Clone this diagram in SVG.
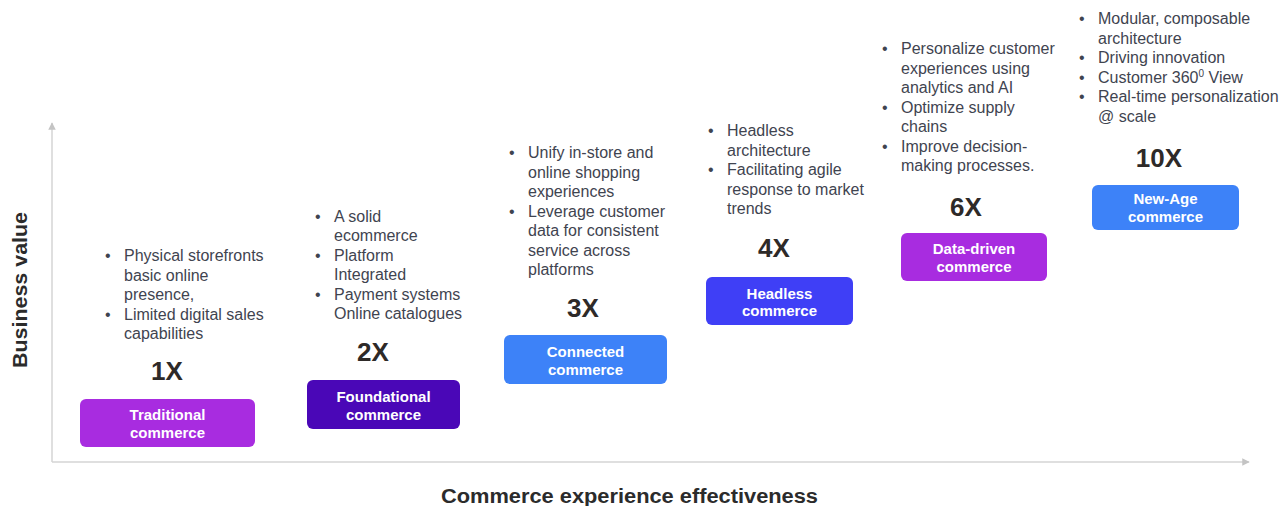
<svg xmlns="http://www.w3.org/2000/svg" width="1284" height="506" viewBox="0 0 1284 506">
  <style>
    .bul { font-family: "Liberation Sans", Arial, sans-serif; font-size: 16px; fill: #3f4450; }
    .mult { font-family: "Liberation Sans", Arial, sans-serif; font-size: 26px; font-weight: bold; fill: #2e2a28; text-anchor: middle; }
    .lab { font-family: "Liberation Sans", Arial, sans-serif; font-size: 15px; font-weight: bold; fill: #ffffff; text-anchor: middle; }
    .axt { font-family: "Liberation Sans", Arial, sans-serif; font-size: 20px; font-weight: bold; fill: #2b2b2b; }
    .axis { stroke: #d4d4d4; stroke-width: 1.5; fill: none; }
  </style>
  <defs>
    <marker id="ah" viewBox="0 0 10 10" refX="9" refY="5" markerWidth="5" markerHeight="5" orient="auto">
      <path d="M0,0 L10,5 L0,10 z" fill="#c4c4c4"/>
    </marker>
  </defs>
  <rect width="1284" height="506" fill="#ffffff"/>

  <!-- axes -->
  <g id="connectors">
    <line class="axis" x1="52" y1="462" x2="52" y2="123" marker-end="url(#ah)"/>
    <line class="axis" x1="52" y1="462" x2="1249" y2="462" marker-end="url(#ah)"/>
  </g>
  <text class="axt" transform="translate(27,290) rotate(-90)" text-anchor="middle" textLength="156" lengthAdjust="spacingAndGlyphs">Business value</text>
  <text class="axt" x="441" y="503" textLength="377" lengthAdjust="spacingAndGlyphs">Commerce experience effectiveness</text>

  <!-- stage 1 -->
  <g id="traditional">
    <text class="bul" x="105" y="261">•</text>
    <text class="bul" x="124" y="261">Physical storefronts</text>
    <text class="bul" x="124" y="280.5">basic online</text>
    <text class="bul" x="124" y="300">presence,</text>
    <text class="bul" x="105" y="319.5">•</text>
    <text class="bul" x="124" y="319.5">Limited digital sales</text>
    <text class="bul" x="124" y="339">capabilities</text>
    <text class="mult" x="167" y="380">1X</text>
    <rect x="80" y="399" width="175" height="48" rx="6" fill="#a82ce0"/>
    <text class="lab" x="167.5" y="420">Traditional</text>
    <text class="lab" x="167.5" y="438">commerce</text>
  </g>

  <!-- stage 2 -->
  <g id="foundational">
    <text class="bul" x="315" y="221.5">•</text>
    <text class="bul" x="334" y="221.5">A solid</text>
    <text class="bul" x="334" y="241">ecommerce</text>
    <text class="bul" x="315" y="260.5">•</text>
    <text class="bul" x="334" y="260.5">Platform</text>
    <text class="bul" x="334" y="280">Integrated</text>
    <text class="bul" x="315" y="299.5">•</text>
    <text class="bul" x="334" y="299.5">Payment systems</text>
    <text class="bul" x="334" y="319">Online catalogues</text>
    <text class="mult" x="373" y="361">2X</text>
    <rect x="307" y="380" width="153" height="49" rx="6" fill="#4a07b7"/>
    <text class="lab" x="383.5" y="402">Foundational</text>
    <text class="lab" x="383.5" y="420">commerce</text>
  </g>

  <!-- stage 3 -->
  <g id="connected">
    <text class="bul" x="509" y="158">•</text>
    <text class="bul" x="528" y="158">Unify in-store and</text>
    <text class="bul" x="528" y="177.5">online shopping</text>
    <text class="bul" x="528" y="197">experiences</text>
    <text class="bul" x="509" y="216.5">•</text>
    <text class="bul" x="528" y="216.5">Leverage customer</text>
    <text class="bul" x="528" y="236">data for consistent</text>
    <text class="bul" x="528" y="255.5">service across</text>
    <text class="bul" x="528" y="275">platforms</text>
    <text class="mult" x="583" y="317">3X</text>
    <rect x="504" y="335" width="163" height="49" rx="6" fill="#3d82f8"/>
    <text class="lab" x="585.5" y="357">Connected</text>
    <text class="lab" x="585.5" y="375">commerce</text>
  </g>

  <!-- stage 4 -->
  <g id="headless">
    <text class="bul" x="708" y="136">•</text>
    <text class="bul" x="727" y="136">Headless</text>
    <text class="bul" x="727" y="155.5">architecture</text>
    <text class="bul" x="708" y="175">•</text>
    <text class="bul" x="727" y="175">Facilitating agile</text>
    <text class="bul" x="727" y="194.5">response to market</text>
    <text class="bul" x="727" y="214">trends</text>
    <text class="mult" x="774" y="257">4X</text>
    <rect x="706" y="277" width="147" height="48" rx="6" fill="#3f3ff6"/>
    <text class="lab" x="779.5" y="299">Headless</text>
    <text class="lab" x="779.5" y="316">commerce</text>
  </g>

  <!-- stage 5 -->
  <g id="data-driven">
    <text class="bul" x="882" y="54">•</text>
    <text class="bul" x="901" y="54">Personalize customer</text>
    <text class="bul" x="901" y="73.5">experiences using</text>
    <text class="bul" x="901" y="93">analytics and AI</text>
    <text class="bul" x="882" y="112.5">•</text>
    <text class="bul" x="901" y="112.5">Optimize supply</text>
    <text class="bul" x="901" y="132">chains</text>
    <text class="bul" x="882" y="151.5">•</text>
    <text class="bul" x="901" y="151.5">Improve decision-</text>
    <text class="bul" x="901" y="171">making processes.</text>
    <text class="mult" x="966" y="216">6X</text>
    <rect x="901" y="233" width="146" height="48" rx="6" fill="#a82ce0"/>
    <text class="lab" x="974" y="254">Data-driven</text>
    <text class="lab" x="974" y="272">commerce</text>
  </g>

  <!-- stage 6 -->
  <g id="new-age">
    <text class="bul" x="1079" y="24">•</text>
    <text class="bul" x="1098" y="24">Modular, composable</text>
    <text class="bul" x="1098" y="43.5">architecture</text>
    <text class="bul" x="1079" y="63">•</text>
    <text class="bul" x="1098" y="63">Driving innovation</text>
    <text class="bul" x="1079" y="82.5">•</text>
    <text class="bul" x="1098" y="82.5">Customer 360<tspan font-size="10" dy="-6">0</tspan><tspan dy="6"> View</tspan></text>
    <text class="bul" x="1079" y="102">•</text>
    <text class="bul" x="1098" y="102">Real-time personalization</text>
    <text class="bul" x="1098" y="121.5">@ scale</text>
    <text class="mult" x="1159" y="167">10X</text>
    <rect x="1092" y="185" width="147" height="45" rx="6" fill="#3d82f8"/>
    <text class="lab" x="1165.5" y="204">New-Age</text>
    <text class="lab" x="1165.5" y="222">commerce</text>
  </g>
</svg>
